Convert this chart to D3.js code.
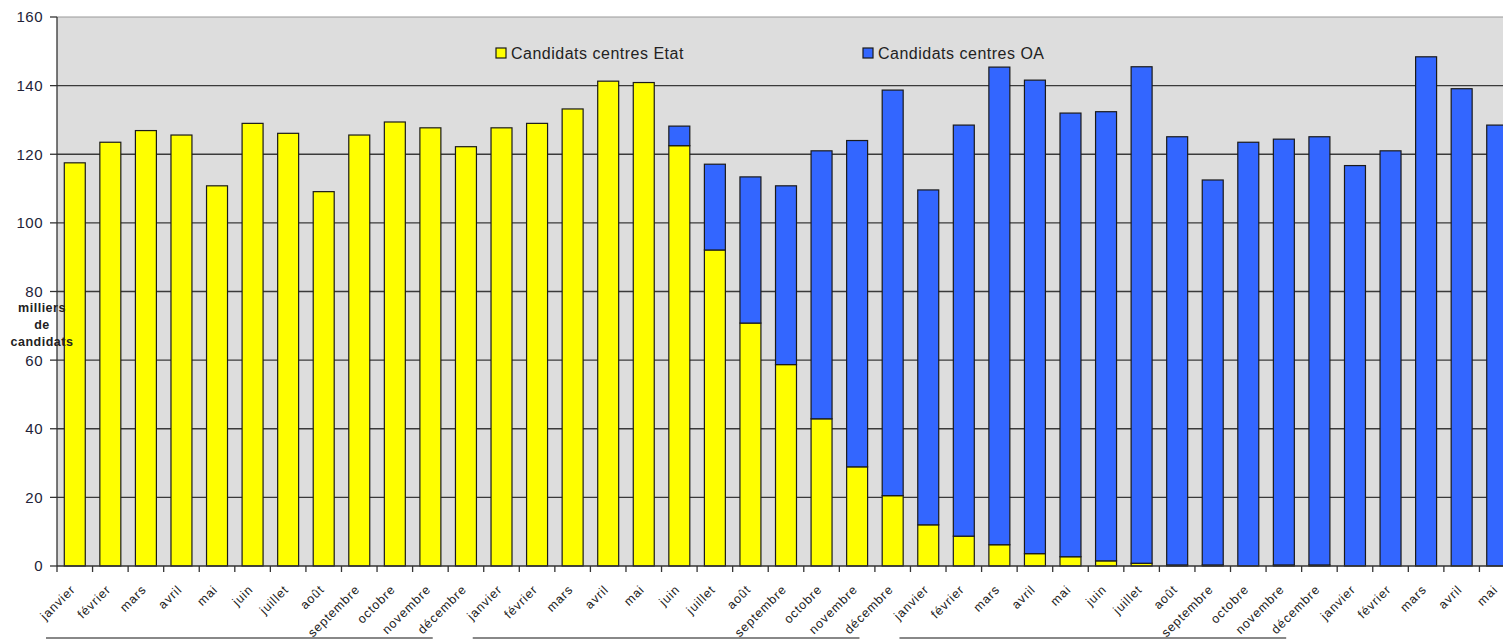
<!DOCTYPE html>
<html>
<head>
<meta charset="utf-8">
<script src="https://cdn.jsdelivr.net/npm/d3@7"></script>
<style>
	body { margin: 0; background: #fff; overflow: hidden; }
	svg { display: block; font-family: Arial, "Liberation Sans", sans-serif; }
</style>
</head>
<body>
<div id="chartDiv"></div>
<script>
;(function() {

	// months, 3 full years + 5 months
	var months = ["janvier", "février", "mars", "avril", "mai", "juin", "juillet", "août",
		"septembre", "octobre", "novembre", "décembre"];
	var categories = months.concat(months, months, months.slice(0, 5));

	// milliers de candidats
	var etatValues = [117.5, 123.5, 126.9, 125.6, 110.8, 129.0, 126.1, 109.1, 125.6, 129.4, 127.7, 122.2,
		127.7, 129.0, 133.2, 141.3, 140.9, 122.5, 92.1, 70.8, 58.7, 42.9, 28.9, 20.5,
		12.0, 8.7, 6.2, 3.6, 2.7, 1.5, 0.8, 0.3, 0.3, 0, 0.3, 0.3,
		0, 0, 0, 0, 0];
	var oaValues = [0, 0, 0, 0, 0, 0, 0, 0, 0, 0, 0, 0,
		0, 0, 0, 0, 0, 5.7, 25.0, 42.6, 52.1, 78.1, 95.1, 118.2,
		97.6, 119.8, 139.2, 138.0, 129.3, 130.9, 144.7, 124.8, 112.2, 123.5, 124.1, 124.8,
		116.7, 121.0, 148.4, 139.1, 128.5];

	var yTicks = [0, 20, 40, 60, 80, 100, 120, 140, 160];
	var seriesNames = ["Candidats centres Etat", "Candidats centres OA"];
	var seriesColors = ["#ffff00", "#3366ff"];
	var yearGroups = [12, 12, 12]; // underlined groups (4th is cut off)

	var width = 1503;
	var height = 639;
	var plot = { left: 57, right: 1515, top: 17, bottom: 566 };

	var chart = d3.select("#chartDiv").append("svg")
		.attr("width", width)
		.attr("height", height);

	var data = categories.map(function(c, i) {
		return { id: i, month: c, etat: etatValues[i], oa: oaValues[i] };
	});

	var xScale = d3.scaleBand()
		.domain(d3.range(categories.length))
		.range([plot.left, plot.right])
		.paddingInner(0.41)
		.paddingOuter(0.205);

	var yScale = d3.scaleLinear()
		.domain([0, 160])
		.range([plot.bottom, plot.top]);

	// plot background
	chart.append("rect")
		.attr("x", plot.left)
		.attr("y", plot.top)
		.attr("width", plot.right - plot.left)
		.attr("height", plot.bottom - plot.top)
		.attr("fill", "#dddddd");

	// grid lines
	chart.selectAll(".grid").data(yTicks.slice(1, -1)).enter().append("line")
		.attr("class", "grid")
		.attr("x1", plot.left).attr("x2", plot.right)
		.attr("y1", d => yScale(d)).attr("y2", d => yScale(d))
		.attr("stroke", "#3a3a3a")
		.attr("stroke-width", 1.3);

	chart.append("line")
		.attr("x1", plot.left).attr("x2", plot.right)
		.attr("y1", yScale(160)).attr("y2", yScale(160))
		.attr("stroke", "#999")
		.attr("stroke-width", 1.2);

	// stacked bars
	var stack = d3.stack().keys(["etat", "oa"])(data);

	chart.selectAll(".serie").data(stack).enter().append("g")
		.attr("class", "serie")
		.attr("fill", (d, i) => seriesColors[i])
		.selectAll("rect").data(d => d.filter(p => p[1] - p[0] > 0)).enter().append("rect")
			.attr("x", d => xScale(d.data.id))
			.attr("width", xScale.bandwidth())
			.attr("y", d => yScale(d[1]))
			.attr("height", d => yScale(d[0]) - yScale(d[1]))
			.attr("stroke", "#1a1a1a")
			.attr("stroke-width", 1.2);

	// y axis
	var yAxis = chart.append("g").attr("class", "y axis");
	yAxis.append("line")
		.attr("x1", plot.left).attr("x2", plot.left)
		.attr("y1", plot.top).attr("y2", plot.bottom)
		.attr("stroke", "#333").attr("stroke-width", 1.3);
	yAxis.selectAll(".ytick").data(yTicks).enter().append("line")
		.attr("x1", plot.left - 7).attr("x2", plot.left)
		.attr("y1", d => yScale(d)).attr("y2", d => yScale(d))
		.attr("stroke", "#333").attr("stroke-width", 1.3);
	yAxis.selectAll(".ylabel").data(yTicks).enter().append("text")
		.attr("x", 43)
		.attr("y", d => yScale(d))
		.attr("dy", "0.36em")
		.attr("text-anchor", "end")
		.style("font-size", "15px")
		.style("letter-spacing", "0.5px")
		.attr("fill", "#222238")
		.text(d => d);

	// x axis
	var xAxis = chart.append("g").attr("class", "x axis");
	xAxis.append("line")
		.attr("x1", plot.left).attr("x2", plot.right)
		.attr("y1", plot.bottom).attr("y2", plot.bottom)
		.attr("stroke", "#333").attr("stroke-width", 1.3);
	xAxis.selectAll(".xtick").data(d3.range(categories.length + 1)).enter().append("line")
		.attr("x1", d => plot.left + d * xScale.step())
		.attr("x2", d => plot.left + d * xScale.step())
		.attr("y1", plot.bottom).attr("y2", plot.bottom + 6)
		.attr("stroke", "#333").attr("stroke-width", 1.3);
	xAxis.selectAll(".xlabel").data(data).enter().append("text")
		.attr("text-anchor", "end")
		.attr("dy", "0.71em")
		.attr("transform", d => "translate(" + (xScale(d.id) + xScale.bandwidth() / 2 - 5) + "," + 584 + ") rotate(-45)")
		.style("font-size", "12.5px")
		.style("letter-spacing", "0.9px")
		.attr("fill", "#222")
		.text(d => d.month);

	// year group underlines
	var start = 0;
	yearGroups.forEach(function(n) {
		chart.append("line")
			.attr("x1", plot.left + start * xScale.step() - 11)
			.attr("x2", plot.left + (start + n) * xScale.step() - 51)
			.attr("y1", 638).attr("y2", 638)
			.attr("stroke", "#888").attr("stroke-width", 2);
		start += n;
	});

	// legend
	var legendX = [496, 863];
	var legend = chart.selectAll(".legend").data(seriesNames).enter().append("g")
		.attr("class", "legend")
		.attr("transform", (d, i) => "translate(" + legendX[i] + ",48)");
	legend.append("rect")
		.attr("width", 10).attr("height", 10)
		.attr("fill", (d, i) => seriesColors[i])
		.attr("stroke", "#1a1a1a").attr("stroke-width", 1.2);
	legend.append("text")
		.attr("x", 15).attr("y", 5).attr("dy", "0.36em")
		.style("font-size", "16px")
		.style("letter-spacing", "0.5px")
		.attr("fill", "#222")
		.text(d => d);

	// y axis title
	chart.append("text")
		.attr("text-anchor", "middle")
		.style("font-size", "12.5px")
		.style("font-weight", "bold")
		.style("letter-spacing", "0.5px")
		.attr("fill", "#222")
		.selectAll("tspan").data(["milliers", "de", "candidats"]).enter().append("tspan")
			.attr("x", 42)
			.attr("y", (d, i) => 312 + i * 17)
			.text(d => d);

})();
</script>
</body>
</html>
